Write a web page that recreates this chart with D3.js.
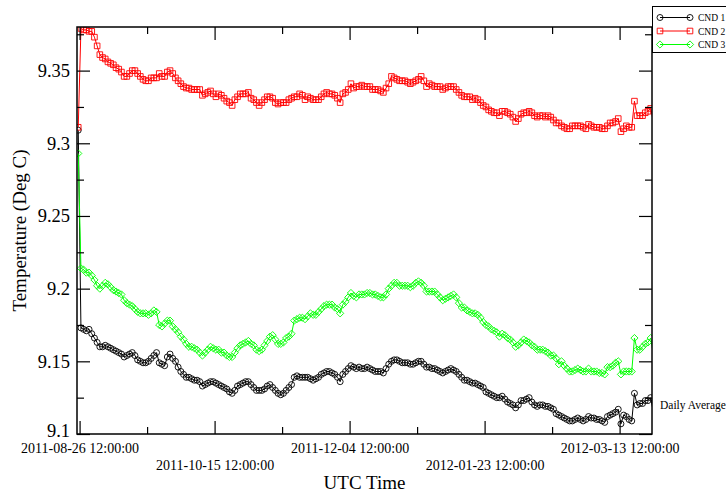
<!DOCTYPE html>
<html>
<head>
<meta charset="utf-8">
<script src="https://cdn.jsdelivr.net/npm/d3@7"></script>
<style>
  body { margin: 0; background: #fff; }
  svg { display: block; }
  text { font-family: "Liberation Serif", "Times New Roman", serif; fill: #000; }
</style>
</head>
<body>
<svg id="chart" width="726" height="493"></svg>
<script>
// Daily average temperatures (deg C), one value per day at 12:00 UTC,
// first sample 2011-08-25, last sample 2012-03-25.
const firstSample = "2011-08-25T12:00:00Z";
const lastSample  = "2012-03-25T12:00:00Z";
// visible time window of the graph
const xStart = "2011-08-25T13:00:00Z";
const xEnd   = "2012-03-25T12:00:00Z";

const seriesNames = ["CND 1", "CND 2", "CND 3"];

const cnd1 = [9.309,
  9.173, 9.172, 9.171, 9.172, 9.169, 9.166, 9.163, 9.160, 9.160, 9.161,
  9.160, 9.159, 9.158, 9.157, 9.156, 9.155, 9.153, 9.154, 9.155, 9.156,
  9.154, 9.151, 9.150, 9.149, 9.149, 9.150, 9.152, 9.154, 9.156, 9.149,
  9.148, 9.147, 9.153, 9.155, 9.152, 9.150, 9.146, 9.143, 9.141, 9.139,
  9.139, 9.138, 9.137, 9.137, 9.136, 9.133, 9.134, 9.135, 9.136, 9.136,
  9.135, 9.134, 9.133, 9.132, 9.131, 9.129, 9.128, 9.130, 9.133, 9.134,
  9.135, 9.136, 9.136, 9.134, 9.132, 9.130, 9.130, 9.130, 9.131, 9.133,
  9.134, 9.132, 9.130, 9.128, 9.127, 9.128, 9.130, 9.132, 9.134, 9.139,
  9.140, 9.139, 9.139, 9.139, 9.139, 9.138, 9.137, 9.138, 9.139, 9.141,
  9.142, 9.143, 9.143, 9.142, 9.141, 9.139, 9.136, 9.141, 9.143, 9.145,
  9.147, 9.146, 9.145, 9.146, 9.145, 9.145, 9.146, 9.145, 9.144, 9.143,
  9.143, 9.143, 9.142, 9.145, 9.148, 9.150, 9.151, 9.151, 9.150, 9.149,
  9.149, 9.149, 9.148, 9.148, 9.149, 9.150, 9.150, 9.148, 9.146, 9.146,
  9.145, 9.145, 9.144, 9.143, 9.142, 9.143, 9.144, 9.145, 9.144, 9.143,
  9.141, 9.139, 9.137, 9.137, 9.136, 9.135, 9.135, 9.134, 9.133, 9.132,
  9.129, 9.128, 9.127, 9.126, 9.125, 9.125, 9.126, 9.124, 9.122, 9.121,
  9.120, 9.118, 9.120, 9.123, 9.123, 9.124, 9.125, 9.122, 9.120, 9.119,
  9.120, 9.120, 9.119, 9.119, 9.118, 9.117, 9.114, 9.113, 9.112, 9.111,
  9.110, 9.109, 9.109, 9.110, 9.111, 9.110, 9.109, 9.110, 9.112, 9.111,
  9.111, 9.110, 9.110, 9.109, 9.108, 9.112, 9.113, 9.114, 9.115, 9.117,
  9.107, 9.113, 9.112, 9.110, 9.109, 9.128, 9.120, 9.121, 9.121, 9.123,
  9.123, 9.125, 9.115];

const cnd2 = [9.311,
  9.379, 9.378, 9.378, 9.377, 9.377, 9.373, 9.367, 9.361, 9.359, 9.358,
  9.356, 9.355, 9.354, 9.352, 9.351, 9.349, 9.346, 9.346, 9.348, 9.350,
  9.350, 9.348, 9.346, 9.344, 9.343, 9.343, 9.345, 9.345, 9.345, 9.348,
  9.346, 9.346, 9.349, 9.350, 9.348, 9.345, 9.343, 9.341, 9.339, 9.338,
  9.338, 9.337, 9.337, 9.337, 9.337, 9.333, 9.334, 9.335, 9.336, 9.334,
  9.332, 9.334, 9.333, 9.331, 9.329, 9.328, 9.326, 9.330, 9.332, 9.334,
  9.334, 9.334, 9.335, 9.331, 9.330, 9.328, 9.326, 9.328, 9.330, 9.332,
  9.332, 9.331, 9.328, 9.327, 9.328, 9.328, 9.328, 9.330, 9.331, 9.332,
  9.332, 9.334, 9.333, 9.330, 9.332, 9.331, 9.330, 9.330, 9.330, 9.332,
  9.334, 9.335, 9.334, 9.334, 9.333, 9.331, 9.328, 9.334, 9.335, 9.337,
  9.341, 9.338, 9.339, 9.339, 9.340, 9.339, 9.339, 9.339, 9.337, 9.337,
  9.337, 9.336, 9.335, 9.338, 9.341, 9.346, 9.345, 9.344, 9.343, 9.343,
  9.343, 9.342, 9.341, 9.342, 9.343, 9.344, 9.346, 9.343, 9.339, 9.341,
  9.340, 9.339, 9.339, 9.339, 9.337, 9.338, 9.339, 9.339, 9.339, 9.337,
  9.335, 9.333, 9.332, 9.332, 9.332, 9.330, 9.331, 9.330, 9.328, 9.326,
  9.325, 9.323, 9.322, 9.321, 9.321, 9.319, 9.322, 9.322, 9.321, 9.320,
  9.318, 9.315, 9.317, 9.320, 9.321, 9.321, 9.322, 9.321, 9.319, 9.318,
  9.319, 9.319, 9.318, 9.319, 9.318, 9.316, 9.314, 9.314, 9.312, 9.311,
  9.310, 9.310, 9.312, 9.312, 9.312, 9.312, 9.311, 9.310, 9.313, 9.312,
  9.311, 9.311, 9.311, 9.310, 9.310, 9.312, 9.314, 9.314, 9.315, 9.317,
  9.308, 9.310, 9.312, 9.311, 9.311, 9.329, 9.319, 9.319, 9.319, 9.321,
  9.322, 9.324, 9.315];

const cnd3 = [9.293,
  9.214, 9.213, 9.211, 9.211, 9.209, 9.206, 9.202, 9.200, 9.202, 9.204,
  9.203, 9.201, 9.199, 9.198, 9.197, 9.196, 9.192, 9.190, 9.189, 9.188,
  9.186, 9.184, 9.183, 9.183, 9.183, 9.182, 9.183, 9.185, 9.184, 9.175,
  9.174, 9.176, 9.178, 9.178, 9.174, 9.172, 9.170, 9.167, 9.165, 9.162,
  9.160, 9.160, 9.159, 9.158, 9.156, 9.154, 9.156, 9.158, 9.160, 9.159,
  9.158, 9.158, 9.156, 9.156, 9.154, 9.153, 9.153, 9.156, 9.159, 9.161,
  9.162, 9.163, 9.164, 9.162, 9.161, 9.158, 9.157, 9.158, 9.161, 9.164,
  9.167, 9.168, 9.165, 9.162, 9.162, 9.163, 9.166, 9.167, 9.169, 9.178,
  9.179, 9.180, 9.180, 9.179, 9.181, 9.183, 9.182, 9.182, 9.184, 9.186,
  9.188, 9.189, 9.189, 9.189, 9.187, 9.186, 9.183, 9.189, 9.191, 9.194,
  9.197, 9.195, 9.194, 9.196, 9.196, 9.196, 9.197, 9.197, 9.196, 9.196,
  9.195, 9.194, 9.194, 9.196, 9.200, 9.202, 9.204, 9.204, 9.202, 9.202,
  9.202, 9.202, 9.201, 9.202, 9.204, 9.205, 9.204, 9.202, 9.198, 9.198,
  9.198, 9.198, 9.196, 9.194, 9.192, 9.193, 9.194, 9.195, 9.196, 9.194,
  9.190, 9.187, 9.187, 9.185, 9.184, 9.183, 9.183, 9.182, 9.180, 9.177,
  9.175, 9.174, 9.172, 9.171, 9.170, 9.167, 9.169, 9.168, 9.166, 9.165,
  9.163, 9.160, 9.161, 9.163, 9.165, 9.164, 9.163, 9.161, 9.160, 9.158,
  9.158, 9.158, 9.157, 9.156, 9.154, 9.154, 9.152, 9.148, 9.150, 9.147,
  9.145, 9.143, 9.143, 9.144, 9.145, 9.144, 9.143, 9.143, 9.145, 9.143,
  9.143, 9.143, 9.142, 9.142, 9.141, 9.146, 9.146, 9.147, 9.149, 9.150,
  9.141, 9.143, 9.143, 9.143, 9.143, 9.166, 9.158, 9.158, 9.160, 9.162,
  9.163, 9.166, 9.155];

const yTickValues  = [9.1, 9.15, 9.2, 9.25, 9.3, 9.35];
const yMinorValues = [9.125, 9.175, 9.225, 9.275, 9.325, 9.375];
const xTickValues  = ["2011-08-26T12:00:00Z", "2011-10-15T12:00:00Z", "2011-12-04T12:00:00Z",
                      "2012-01-23T12:00:00Z", "2012-03-13T12:00:00Z"];
const xMinorValues = ["2011-09-20T12:00:00Z", "2011-11-09T12:00:00Z", "2011-12-29T12:00:00Z",
                      "2012-02-17T12:00:00Z"];
const yDomain = [9.1, 9.38];

// ---- layout ----
const plot = { left: 77, right: 652, top: 27, bottom: 434 };
const svg = d3.select("#chart");

const t0 = new Date(firstSample), t1 = new Date(lastSample);
const dates = d3.utcDay.range(t0, d3.utcDay.offset(t1, 1));
const xDomain = [new Date(xStart), new Date(xEnd)];

const x = d3.scaleUtc().domain(xDomain).range([plot.left, plot.right]);
const y = d3.scaleLinear().domain(yDomain).range([plot.bottom, plot.top]);

const fmt = d3.utcFormat("%Y-%m-%d %H:%M:%S");
const xt = xTickValues.map(d => new Date(d));
const xm = xMinorValues.map(d => new Date(d));

svg.append("clipPath").attr("id", "plotClip")
  .append("rect")
  .attr("x", plot.left).attr("y", plot.top)
  .attr("width", plot.right - plot.left).attr("height", plot.bottom - plot.top);

// ---- series ----
const colors = ["#000000", "#ff0000", "#00ff00"];
const symbols = [
  "M3,0A3,3 0 1,1 -3,0A3,3 0 1,1 3,0Z",   // circle
  "M-2.8,-2.8H2.8V2.8H-2.8Z",             // square
  "M0,-3.6L3.6,0L0,3.6L-3.6,0Z"           // diamond
];
const allSeries = [cnd1, cnd2, cnd3];

const gData = svg.append("g").attr("clip-path", "url(#plotClip)");
const line = d3.line().x((d, i) => x(dates[i])).y(d => y(d));
// symbols are only drawn for samples inside the time window; lines are clipped
const inWindow = i => dates[i] >= xDomain[0] && dates[i] <= xDomain[1];

allSeries.forEach((vals, s) => {
  const g = gData.append("g");
  g.append("path")
    .attr("d", line(vals))
    .attr("fill", "none")
    .attr("stroke", colors[s])
    .attr("stroke-width", 1);
  const pts = vals.map((v, i) => ({ v, i })).filter(p => inWindow(p.i));
  g.selectAll("path.sym").data(pts).join("path")
    .attr("class", "sym")
    .attr("d", symbols[s])
    .attr("transform", p => `translate(${x(dates[p.i])},${y(p.v)})`)
    .attr("fill", "none")
    .attr("stroke", colors[s])
    .attr("stroke-width", 0.9);
});

// ---- axes (ticks point inward on all four sides) ----
function styleAxis(g) {
  g.select(".domain").remove();
  g.selectAll(".tick line").attr("stroke", "#000").attr("stroke-width", 1.2);
}
const major = 13, minor = 7;

svg.append("g").attr("transform", `translate(0,${plot.bottom})`)
  .call(d3.axisBottom(x).tickValues(xt).tickSizeInner(-major).tickSizeOuter(0)
        .tickPadding(8).tickFormat(fmt))
  .call(styleAxis)
  .call(g => g.selectAll(".tick text")
      .attr("font-size", 14)
      .attr("font-family", "Liberation Serif, serif")
      .attr("y", (d, i) => i % 2 ? 26 : 9.5));
svg.append("g").attr("transform", `translate(0,${plot.bottom})`)
  .call(d3.axisBottom(x).tickValues(xm).tickSizeInner(-minor).tickSizeOuter(0).tickFormat(""))
  .call(styleAxis);
svg.append("g").attr("transform", `translate(0,${plot.top})`)
  .call(d3.axisTop(x).tickValues(xt).tickSizeInner(-major).tickSizeOuter(0).tickFormat(""))
  .call(styleAxis);
svg.append("g").attr("transform", `translate(0,${plot.top})`)
  .call(d3.axisTop(x).tickValues(xm).tickSizeInner(-minor).tickSizeOuter(0).tickFormat(""))
  .call(styleAxis);

svg.append("g").attr("transform", `translate(${plot.left},0)`)
  .call(d3.axisLeft(y).tickValues(yTickValues).tickSizeInner(-major).tickSizeOuter(0)
        .tickPadding(7).tickFormat(d3.format("~g")))
  .call(styleAxis)
  .call(g => g.selectAll(".tick text")
      .attr("font-size", 18.5)
      .attr("font-family", "Liberation Serif, serif")
      .attr("dy", (d, i) => i === 0 ? "0.15em" : "0.32em"));
svg.append("g").attr("transform", `translate(${plot.left},0)`)
  .call(d3.axisLeft(y).tickValues(yMinorValues).tickSizeInner(-minor).tickSizeOuter(0).tickFormat(""))
  .call(styleAxis);
svg.append("g").attr("transform", `translate(${plot.right},0)`)
  .call(d3.axisRight(y).tickValues(yTickValues).tickSizeInner(-major).tickSizeOuter(0).tickFormat(""))
  .call(styleAxis);
svg.append("g").attr("transform", `translate(${plot.right},0)`)
  .call(d3.axisRight(y).tickValues(yMinorValues).tickSizeInner(-minor).tickSizeOuter(0).tickFormat(""))
  .call(styleAxis);

// frame
svg.append("rect")
  .attr("x", plot.left).attr("y", plot.top)
  .attr("width", plot.right - plot.left).attr("height", plot.bottom - plot.top)
  .attr("fill", "none").attr("stroke", "#000").attr("stroke-width", 1.5);

// ---- titles ----
svg.append("text")
  .attr("x", (plot.left + plot.right) / 2).attr("y", 489)
  .attr("text-anchor", "middle").attr("font-size", 19)
  .text("UTC Time");
svg.append("text")
  .attr("transform", `translate(26,${(plot.top + plot.bottom) / 2}) rotate(-90)`)
  .attr("text-anchor", "middle").attr("font-size", 19)
  .text("Temperature (Deg C)");
svg.append("text")
  .attr("x", 660).attr("y", 409)
  .attr("font-size", 11.5)
  .text("Daily Average");

// ---- legend ----
const lg = svg.append("g");
lg.append("rect")
  .attr("x", 652.5).attr("y", 6.5).attr("width", 80).attr("height", 46)
  .attr("fill", "#fff").attr("stroke", "#000").attr("stroke-width", 1);
seriesNames.forEach((name, s) => {
  const yy = 17.5 + s * 13.5;
  lg.append("line").attr("x1", 660).attr("x2", 690).attr("y1", yy).attr("y2", yy)
    .attr("stroke", colors[s]).attr("stroke-width", 1);
  [660, 690].forEach(xx => lg.append("path")
    .attr("d", symbols[s]).attr("transform", `translate(${xx},${yy})`)
    .attr("fill", "none").attr("stroke", colors[s]).attr("stroke-width", 0.9));
  lg.append("text").attr("x", 698).attr("y", yy + 3.5).attr("font-size", 9.5).text(name);
});
</script>
</body>
</html>
